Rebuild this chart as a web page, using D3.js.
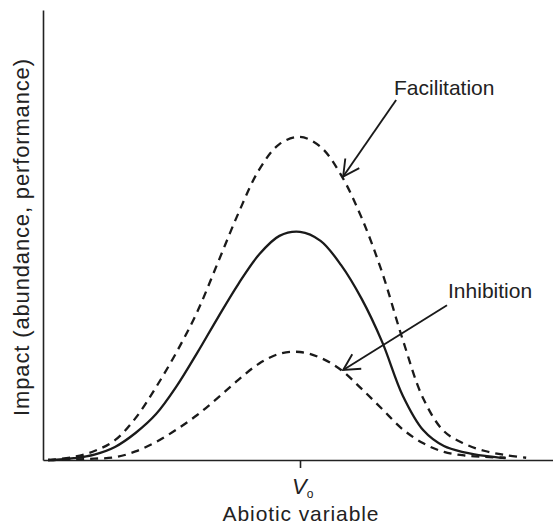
<!DOCTYPE html>
<html>
<head>
<meta charset="utf-8">
<script src="https://cdn.jsdelivr.net/npm/d3@7"></script>
<style>
  body { margin: 0; background: #fff; }
  svg { display: block; font-family: "Liberation Sans", Arial, Helvetica, sans-serif; }
</style>
</head>
<body>
<svg id="chart" width="553" height="528"></svg>
<script>
// abiotic variable grid (V_o sits at 50)
const xGrid = [1, 2, 6, 10, 14, 18, 22, 26, 30, 34, 38, 42, 46, 50, 54, 58, 62, 66, 70, 74, 78, 82, 86, 90, 94];

// impact curves (0-100 scale)
const facilitation = [0, 0.1, 0.7, 2, 4.4, 9.3, 16.2, 24, 32.9, 43.8, 54.8, 64.4, 70.2, 71.8, 69.6, 63.3, 53.8, 41.6, 26.7, 13.6, 6.4, 3.6, 2, 1.1, 0.5];
const baseline     = [0, 0, 0.4, 1.2, 2.9, 6, 10.2, 16.4, 23.8, 31.6, 39.1, 45.6, 49.8, 50.7, 48.7, 43.3, 35.8, 26.2, 14.3, 6.6, 3.1, 1.7, 0.9, 0.4, null];
const inhibition   = [0, 0, 0.1, 0.3, 0.6, 1.9, 4, 6.8, 10, 13.8, 17.8, 21.4, 23.6, 24, 22.7, 20, 15.8, 11.3, 6.8, 3.7, 1.8, 1, 0.7, 0.5, null];

const tickValues = [50];
const tickLabels = ["V"];

// annotations: label position, arrow start, arrow tip (data units)
const annotations = [
  { text: "Facilitation", tx: 68.3, ty: 81.1, x1: 68.7, y1: 80.0, x2: 58.4, y2: 63.0 },
  { text: "Inhibition",   tx: 78.8, ty: 36.0, x1: 78.6, y1: 34.4, x2: 58.4, y2: 20.0 }
];

const svg = d3.select("#chart");
const x = d3.scaleLinear().domain([0, 100]).range([43, 557]);
const y = d3.scaleLinear().domain([0, 100]).range([460, 10]);

// axes
svg.append("g")
  .attr("transform", `translate(0,${y(0)})`)
  .call(d3.axisBottom(x).tickValues(tickValues).tickFormat("").tickSizeInner(8).tickSizeOuter(0))
  .call(g => g.selectAll("path, line").attr("stroke", "#222").attr("stroke-width", 1.6));

svg.append("g")
  .attr("transform", `translate(${x(0)},0)`)
  .call(d3.axisLeft(y).tickValues([]).tickSizeOuter(0))
  .call(g => g.selectAll("path").attr("stroke", "#222").attr("stroke-width", 1.6));

// V_o tick label
const vl = svg.append("text")
  .attr("x", x(tickValues[0]) - 8)
  .attr("y", 494)
  .attr("font-size", 22)
  .attr("fill", "#222");
vl.append("tspan").attr("font-style", "italic").text(tickLabels[0]);
vl.append("tspan").attr("font-size", 12).attr("dy", 4).text("o");

// axis titles
svg.append("text")
  .attr("x", 301)
  .attr("y", 521)
  .attr("text-anchor", "middle")
  .attr("font-size", 21)
  .attr("letter-spacing", 0.9)
  .attr("fill", "#222")
  .text("Abiotic variable");

svg.append("text")
  .attr("transform", "translate(29,237) rotate(-90)")
  .attr("text-anchor", "middle")
  .attr("font-size", 22)
  .attr("letter-spacing", 0.85)
  .attr("fill", "#222")
  .text("Impact (abundance, performance)");

// curves
const line = d3.line()
  .defined(d => d[1] != null)
  .x(d => x(d[0]))
  .y(d => y(d[1]))
  .curve(d3.curveCatmullRom.alpha(0.5));

const series = [
  { values: facilitation, dash: "8,6" },
  { values: baseline, dash: null },
  { values: inhibition, dash: "8,6" }
];

svg.append("g")
  .selectAll("path")
  .data(series)
  .join("path")
  .attr("d", s => line(xGrid.map((v, i) => [v, s.values[i]])))
  .attr("fill", "none")
  .attr("stroke", "#1a1a1a")
  .attr("stroke-width", 2.3)
  .attr("stroke-dasharray", s => s.dash);

// arrows
svg.append("defs").append("marker")
  .attr("id", "head")
  .attr("markerUnits", "userSpaceOnUse")
  .attr("viewBox", "-18 -11 20 22")
  .attr("markerWidth", 20)
  .attr("markerHeight", 22)
  .attr("refX", 0)
  .attr("refY", 0)
  .attr("orient", "auto")
  .append("path")
  .attr("d", "M-16,-8.5L0,0L-16,8.5")
  .attr("fill", "none")
  .attr("stroke", "#1a1a1a")
  .attr("stroke-width", 1.9);

const ann = svg.append("g").selectAll("g").data(annotations).join("g");

ann.append("line")
  .attr("x1", d => x(d.x1))
  .attr("y1", d => y(d.y1))
  .attr("x2", d => x(d.x2))
  .attr("y2", d => y(d.y2))
  .attr("stroke", "#1a1a1a")
  .attr("stroke-width", 1.9)
  .attr("marker-end", "url(#head)");

ann.append("text")
  .attr("x", d => x(d.tx))
  .attr("y", d => y(d.ty))
  .attr("font-size", 21)
  .attr("fill", "#222")
  .text(d => d.text);
</script>
</body>
</html>
